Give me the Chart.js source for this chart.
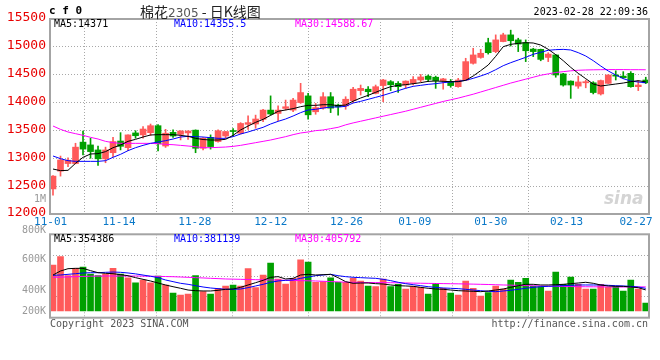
<!DOCTYPE html>
<html><head><meta charset="utf-8">
<script src="https://cdn.jsdelivr.net/npm/chart.js@4.4.1/dist/chart.umd.min.js"></script>
<style>
html,body{margin:0;padding:0;background:#fff}
#wrap{position:relative;width:660px;height:360px;overflow:hidden;background:#fff}
canvas{position:absolute;left:0}
#c1{top:0}
#c2{top:225px}
.t{position:absolute;white-space:nowrap;font-family:"DejaVu Sans Mono",monospace;font-size:10px;line-height:12px;color:#000}
</style></head>
<body><div id="wrap">
<canvas id="c1" width="660" height="232"></canvas>
<canvas id="c2" width="660" height="100"></canvas>
</div>
<script>
// ---------------- data ----------------
const dates = ['11-01','11-02','11-03','11-04','11-07','11-08','11-09','11-10','11-11','11-14','11-15','11-16','11-17','11-18','11-21','11-22','11-23','11-24','11-25','11-28','11-29','11-30',
'12-01','12-02','12-05','12-06','12-07','12-08','12-09','12-12','12-13','12-14','12-15','12-16','12-19','12-20','12-21','12-22','12-23','12-26','12-27','12-28','12-29','12-30',
'01-03','01-04','01-05','01-06','01-09','01-10','01-11','01-12','01-13','01-16','01-17','01-18','01-19','01-20','01-30','01-31',
'02-01','02-02','02-03','02-06','02-07','02-08','02-09','02-10','02-13','02-14','02-15','02-16','02-17','02-20','02-21','02-22','02-23','02-24','02-27','02-28'];
const xTickLabels = ['11-01','11-14','11-28','12-12','12-26','01-09','01-30','02-13','02-27'];

const open  = [12450,12770,12905,12905,13290,13240,13150,12990,13100,13310,13190,13455,13420,13460,13585,13220,13465,13430,13455,13505,
13180,13375,13300,13400,13485,13450,13610,13615,13700,13865,13805,13895,13865,14000,14120,13835,13900,14105,13955,13940,
14035,14215,14240,14165,14305,14375,14345,14315,14345,14405,14475,14455,14395,14375,14285,14405,14705,14810,15075,14915,
15095,15215,15125,15075,14960,14955,14810,14855,14515,14385,14295,14355,14355,14155,14345,14495,14475,14525,14285,14405];
const high  = [12690,13040,13010,13270,13490,13360,13220,13200,13375,13460,13420,13495,13570,13615,13605,13520,13510,13495,13495,13510,
13370,13420,13510,13480,13535,13640,13760,13775,13880,14120,13940,14045,14075,14345,14165,13985,14180,14180,13975,14105,
14275,14315,14285,14315,14415,14395,14375,14390,14465,14505,14495,14475,14435,14415,14435,14795,14975,14955,15155,15215,
15245,15300,15155,15125,14975,14960,14895,14860,14525,14390,14475,14405,14375,14405,14500,14570,14555,14555,14395,14455];
const low   = [12340,12680,12850,12900,13060,13000,12870,12920,13030,13150,13135,13360,13360,13410,13130,13195,13375,13330,13340,13100,
13150,13165,13290,13360,13400,13435,13520,13540,13655,13775,13675,13865,13835,13985,13700,13790,13880,13820,13775,13880,
14000,14135,14105,14155,14015,14215,14180,14255,14315,14375,14375,14255,14240,14275,14275,14405,14690,14795,14870,14895,
15090,15015,14915,14735,14825,14750,14735,14455,14295,14075,14255,14265,14155,14135,14340,14405,14435,14275,14215,14340];
const close = [12680,12970,12965,13200,13165,13120,12990,13150,13300,13215,13420,13405,13525,13585,13260,13450,13400,13490,13490,13180,
13360,13210,13495,13480,13480,13625,13640,13705,13865,13795,13865,13925,14045,14180,13780,13910,14105,13900,13925,14060,
14240,14255,14195,14285,14405,14320,14285,14385,14415,14460,14415,14395,14425,14305,14405,14735,14855,14885,14895,15125,
15215,15110,15050,14930,14915,14775,14870,14495,14315,14315,14370,14375,14180,14395,14495,14475,14445,14285,14315,14355];

const ma5  = [12807,12778,12784,12909,13017,13077,13083,13119,13190,13238,13304,13340,13382,13418,13424,13424,13424,13412,13394,13358,
13337,13328,13328,13340,13412,13508,13579,13645,13699,13771,13843,13867,13891,13926,13950,13950,13962,13962,13944,13956,
14025,14082,14130,14184,14238,14285,14309,14321,14339,14357,14381,14387,14381,14375,14375,14399,14477,14573,14674,14830,
15003,15045,15063,15075,15069,15033,14956,14860,14752,14632,14525,14429,14333,14297,14315,14333,14351,14375,14393,14371];
const ma10 = [13041,12993,12957,12945,12945,12945,12945,12957,13017,13071,13137,13190,13232,13268,13292,13316,13346,13382,13394,13388,
13382,13370,13358,13358,13388,13436,13472,13514,13556,13615,13663,13705,13759,13819,13867,13879,13902,13920,13920,13932,
13992,14022,14058,14094,14130,14172,14214,14256,14291,14309,14327,14339,14357,14369,14381,14399,14435,14477,14525,14590,
14662,14716,14764,14812,14866,14902,14938,14950,14955,14944,14896,14836,14752,14656,14567,14495,14429,14387,14369,14355.5];
const ma30 = [13579,13519,13472,13442,13412,13376,13346,13304,13280,13268,13268,13268,13268,13268,13262,13250,13244,13232,13220,13208,
13190,13190,13196,13202,13214,13232,13256,13280,13304,13328,13358,13388,13424,13454,13472,13496,13508,13532,13556,13600,
13635,13665,13695,13725,13755,13785,13815,13845,13880,13915,13950,13985,14020,14050,14080,14115,14150,14190,14230,14270,
14310,14350,14385,14420,14455,14490,14515,14540,14555,14570,14580,14585,14588,14590,14592,14592,14592,14590,14590,14588.67];

const volume = [774000,914000,594000,719000,741000,623000,594000,623000,719000,623000,560000,476000,522000,476000,589000,438000,303000,269000,286000,594000,
325000,286000,382000,421000,438000,421000,712000,392000,606000,808000,539000,454000,550000,863000,825000,483000,493000,560000,483000,483000,
550000,505000,421000,409000,539000,409000,449000,370000,409000,399000,286000,466000,382000,303000,269000,505000,382000,252000,308000,421000,
370000,522000,483000,550000,421000,409000,337000,656000,449000,572000,449000,370000,370000,449000,399000,409000,337000,522000,370000,135000];
const volMa5  = [606000,673000,712000,718000,718000,679000,645000,634000,628000,611000,594000,561000,533000,505000,471000,438000,409000,382000,353000,342000,
337000,337000,348000,365000,370000,398000,438000,476000,516000,567000,578000,539000,550000,606000,617000,606000,611000,617000,561000,494000,
466000,471000,471000,460000,454000,438000,426000,421000,415000,398000,382000,370000,365000,353000,342000,337000,331000,325000,337000,353000,
370000,398000,426000,449000,449000,438000,438000,443000,449000,460000,471000,483000,466000,438000,421000,415000,415000,404000,392000,354386];
const volMa10 = [600000,606000,617000,628000,639000,645000,645000,651000,656000,651000,640000,625000,605000,585000,561000,522000,494000,466000,449000,426000,
404000,387000,376000,365000,365000,370000,393000,421000,449000,482000,505000,516000,522000,550000,572000,594000,606000,617000,594000,578000,
567000,561000,555000,550000,533000,511000,483000,460000,443000,426000,409000,398000,387000,382000,376000,365000,353000,342000,331000,325000,
337000,348000,365000,382000,398000,409000,415000,421000,426000,432000,438000,438000,438000,438000,432000,426000,421000,415000,404000,381139];
const volMa30 = [567000,570000,574000,578000,582000,585000,587000,589000,589000,589000,589000,589000,587000,585000,583000,580000,577000,572000,567000,561000,
556000,550000,545000,539000,536000,533000,530000,527000,524000,522000,520000,517000,514000,511000,508000,505000,500000,495000,490000,486000,
483000,481000,479000,478000,477000,476000,474000,472000,469000,467000,465000,463000,461000,459000,457000,455000,452000,449000,446000,442000,
438000,435000,431000,427000,424000,421000,418000,415000,413000,411000,409000,408000,407000,406000,405000,404000,404000,405000,405000,405792];

const volTickLabels = ['800K','600K','400K','200K'];

// ---------------- styles ----------------
const UP = '#ff5a5a', DOWN = '#00a000', GRID = '#a8a8a8';
const MONO = 'DejaVu Sans Mono';
const X_MIN = -0.4, X_MAX = 79.43;
const GRID_SCALE = 1.0113, GRID_SHIFT = -0.31, LAST_LABEL_MAX = 77.7;
const colorOf = i => close[i] >= open[i] ? UP : DOWN;
const idx = dates.map((_, i) => i);
const tickIndex = xTickLabels.map(l => dates.indexOf(l));
const tickValues = tickIndex.map((i, k) => {
  const v = i * GRID_SCALE + GRID_SHIFT;
  return k === tickIndex.length - 1 ? Math.min(v, LAST_LABEL_MAX) : v;
});
const line = (arr, color) => ({type:'line', data: idx.map(i => ({x:i, y:arr[i]})), borderColor: color, borderWidth: 1,
  pointRadius: 0, tension: 0, order: 0, fill: false});
const gridColor = c => (c.index === 0 || c.index === tickValues.length - 1) ? 'rgba(0,0,0,0)' : GRID;

const boxPlugin = { id: 'box', afterDraw(chart) {
  const {ctx, chartArea: a} = chart;
  ctx.save(); ctx.strokeStyle = '#a4a4a4'; ctx.lineWidth = 2;
  ctx.strokeRect(a.left, a.top, a.right - a.left, a.bottom - a.top);
  ctx.restore();
}};

Chart.defaults.animation = false;
Chart.defaults.font.family = MONO;

new Chart(document.getElementById('c1'), {
  type: 'bar',
  data: { datasets: [
    line(ma5, '#000000'), line(ma10, '#0000ff'), line(ma30, '#ff00ff'),
    { data: idx.map(i => ({x:i, y:[open[i], close[i]]})), backgroundColor: idx.map(colorOf),
      barThickness: 6, minBarLength: 1, borderWidth: 0, grouped: false, order: 1 },
    { data: idx.map(i => ({x:i, y:[low[i], high[i]]})), backgroundColor: idx.map(colorOf),
      barThickness: 1, borderWidth: 0, grouped: false, order: 2 }
  ]},
  options: {
    responsive: false, events: [],
    layout: { padding: { left: 0, top: 19, right: 11, bottom: 0 } },
    plugins: { legend: { display: false }, tooltip: { enabled: false } },
    scales: {
      x: { type: 'linear', min: X_MIN, max: X_MAX, offset: false,
        afterBuildTicks: s => { s.ticks = tickValues.map(v => ({value: v})); },
        afterFit: s => { s.height = 18; },
        ticks: { autoSkip: false, maxRotation: 0, padding: 2, color: '#0a78c8',
          font: { family: MONO, size: 11 }, callback: (v, k) => xTickLabels[k] },
        grid: { drawTicks: false, color: gridColor, lineWidth: 1 },
        border: { display: false, dash: [1, 2] } },
      y: { min: 12000, max: 15500,
        afterFit: s => { s.width = 50; },
        ticks: { stepSize: 500, padding: 4, color: '#e80000', labelOffset: -1,
          font: { family: MONO, size: 13 }, callback: v => String(v) },
        grid: { drawTicks: false, color: GRID, lineWidth: 1 },
        border: { display: false, dash: [1, 2] } }
    }
  },
  plugins: [boxPlugin]
});

new Chart(document.getElementById('c2'), {
  type: 'bar',
  data: { datasets: [
    line(volMa5, '#000000'), line(volMa10, '#0000ff'), line(volMa30, '#ff00ff'),
    { data: idx.map(i => ({x:i, y:volume[i]})), backgroundColor: idx.map(colorOf),
      barThickness: 6, borderWidth: 0, grouped: false, order: 1 }
  ]},
  options: {
    responsive: false, events: [],
    layout: { padding: { left: 0, top: 9.3, right: 11, bottom: 7.3 } },
    plugins: { legend: { display: false }, tooltip: { enabled: false } },
    scales: {
      x: { type: 'linear', min: X_MIN, max: X_MAX, offset: false,
        afterBuildTicks: s => { s.ticks = tickValues.map(v => ({value: v})); },
        afterFit: s => { s.height = 0; },
        ticks: { display: false },
        grid: { drawTicks: false, color: gridColor, lineWidth: 1 },
        border: { display: false, dash: [1, 2] } },
      y: { min: -113000, max: 1291000,
        afterFit: s => { s.width = 50; },
        afterBuildTicks: s => { const q = (s.max - s.min) / 4; s.ticks = [0,1,2,3,4].map(k => ({value: s.min + q * k})); },
        ticks: { display: false },
        grid: { drawTicks: false, color: GRID, lineWidth: 1 },
        border: { display: false, dash: [1, 2] } }
    }
  },
  plugins: [boxPlugin]
});

// ---------------- text ----------------
const wrap = document.getElementById('wrap');
function txt(html, css) {
  const d = document.createElement('div');
  d.className = 't'; d.innerHTML = html; d.style.cssText += css; wrap.appendChild(d); return d;
}
const last = a => a[a.length - 1];
txt('c f 0', 'left:49px;top:4px;font-size:11px;font-weight:bold;line-height:14px;');
txt('棉花<span style="color:#555;font-family:\'DejaVu Sans\';font-size:12px">2305</span> - 日K线图',
    'left:140px;top:2px;font-family:"Noto Sans CJK SC";font-size:14px;line-height:19px;color:#222;');
txt('2023-02-28 22:09:36', 'right:12px;top:6px;');
txt('MA5:' + last(ma5), 'left:54px;top:18px;');
txt('MA10:' + last(ma10), 'left:174px;top:18px;color:#0000ff;');
txt('MA30:' + last(ma30), 'left:295px;top:18px;color:#ff00ff;');
txt('1M', 'right:614px;top:193px;color:#999;');
txt('MA5:' + last(volMa5), 'left:54px;top:233px;');
txt('MA10:' + last(volMa10), 'left:174px;top:233px;color:#0000ff;');
txt('MA30:' + last(volMa30), 'left:295px;top:233px;color:#ff00ff;');
const volLabelY = [224, 253, 284, 305];
volTickLabels.forEach((l, k) => txt(l, 'right:614px;top:' + volLabelY[k] + 'px;color:#999;'));
txt('Copyright 2023 SINA.COM', 'left:50px;top:318px;color:#555;');
txt('http://finance.sina.com.cn', 'right:12px;top:318px;color:#555;');
txt('sina', 'left:604px;top:188px;font-family:"DejaVu Sans";font-style:italic;font-weight:bold;font-size:17px;line-height:20px;color:#d4d4d4;');
</script>
</body></html>
